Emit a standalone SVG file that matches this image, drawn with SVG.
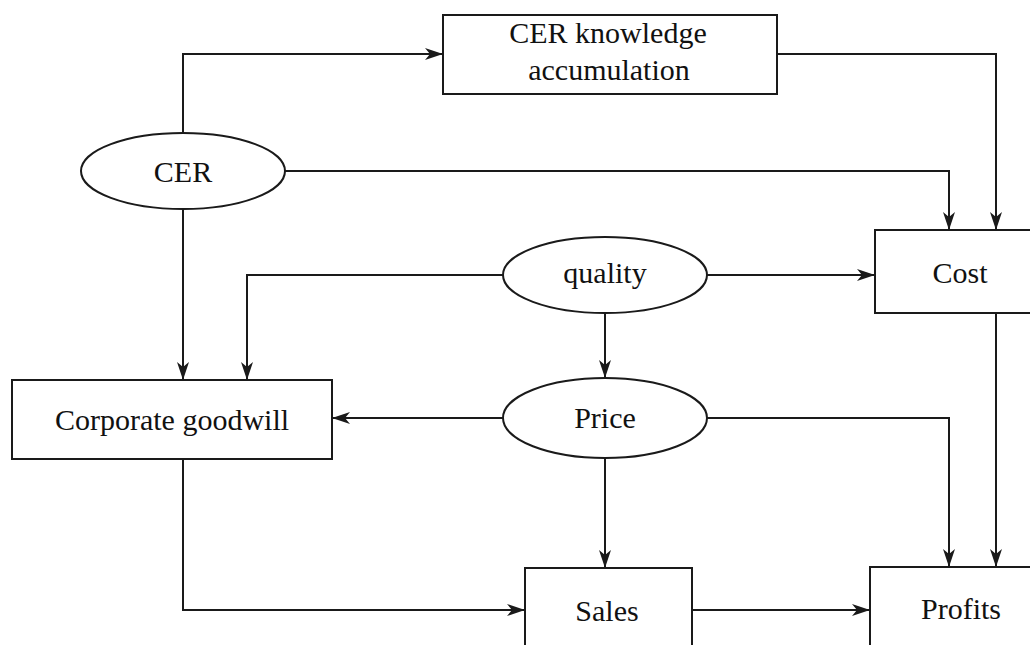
<svg xmlns="http://www.w3.org/2000/svg" width="1030" height="645" viewBox="0 0 1030 645">
<style>
.n{fill:#fff;stroke:#1a1a1a;stroke-width:2}
.t{font-family:"Liberation Serif",serif;font-size:30px;fill:#111;text-anchor:middle}
.c{fill:none;stroke:#1a1a1a;stroke-width:2;marker-end:url(#ah)}
</style>
<defs>
<marker id="ah" viewBox="0 0 18 12" refX="18" refY="6" markerWidth="18" markerHeight="12" markerUnits="userSpaceOnUse" orient="auto">
<path d="M0,0 L18,6 L0,12 L5,6 z" fill="#1a1a1a"/>
</marker>
</defs>
<g id="connectors">
<path class="c" d="M183,133 V54 H443"/>
<path class="c" d="M777,54 H996 V230"/>
<path class="c" d="M285,171 H949 V230"/>
<path class="c" d="M183,209 V380"/>
<path class="c" d="M503,275 H247 V380"/>
<path class="c" d="M707,275 H875"/>
<path class="c" d="M605,313 V378"/>
<path class="c" d="M503,418 H332"/>
<path class="c" d="M707,418 H949 V567"/>
<path class="c" d="M605,458 V568"/>
<path class="c" d="M996,313 V567"/>
<path class="c" d="M183,459 V610 H525"/>
<path class="c" d="M692,610 H870"/>
</g>
<g id="knowledge">
<rect class="n" x="443" y="15" width="334" height="79"/>
<text class="t" x="608" y="43">CER knowledge</text>
<text class="t" x="609" y="80">accumulation</text>
</g>
<g id="cer">
<ellipse class="n" cx="183" cy="171" rx="102" ry="38"/>
<text class="t" x="183" y="182">CER</text>
</g>
<g id="cost">
<rect class="n" x="875" y="230" width="170" height="83"/>
<text class="t" x="960" y="283">Cost</text>
</g>
<g id="quality">
<ellipse class="n" cx="605" cy="275" rx="102" ry="38"/>
<text class="t" x="605" y="283">quality</text>
</g>
<g id="goodwill">
<rect class="n" x="12" y="380" width="320" height="79"/>
<text class="t" x="172" y="430">Corporate goodwill</text>
</g>
<g id="price">
<ellipse class="n" cx="605" cy="418" rx="102" ry="40"/>
<text class="t" x="605" y="428">Price</text>
</g>
<g id="sales">
<rect class="n" x="525" y="568" width="167" height="100"/>
<text class="t" x="607" y="621">Sales</text>
</g>
<g id="profits">
<rect class="n" x="870" y="567" width="175" height="100"/>
<text class="t" x="961" y="619">Profits</text>
</g>
</svg>
